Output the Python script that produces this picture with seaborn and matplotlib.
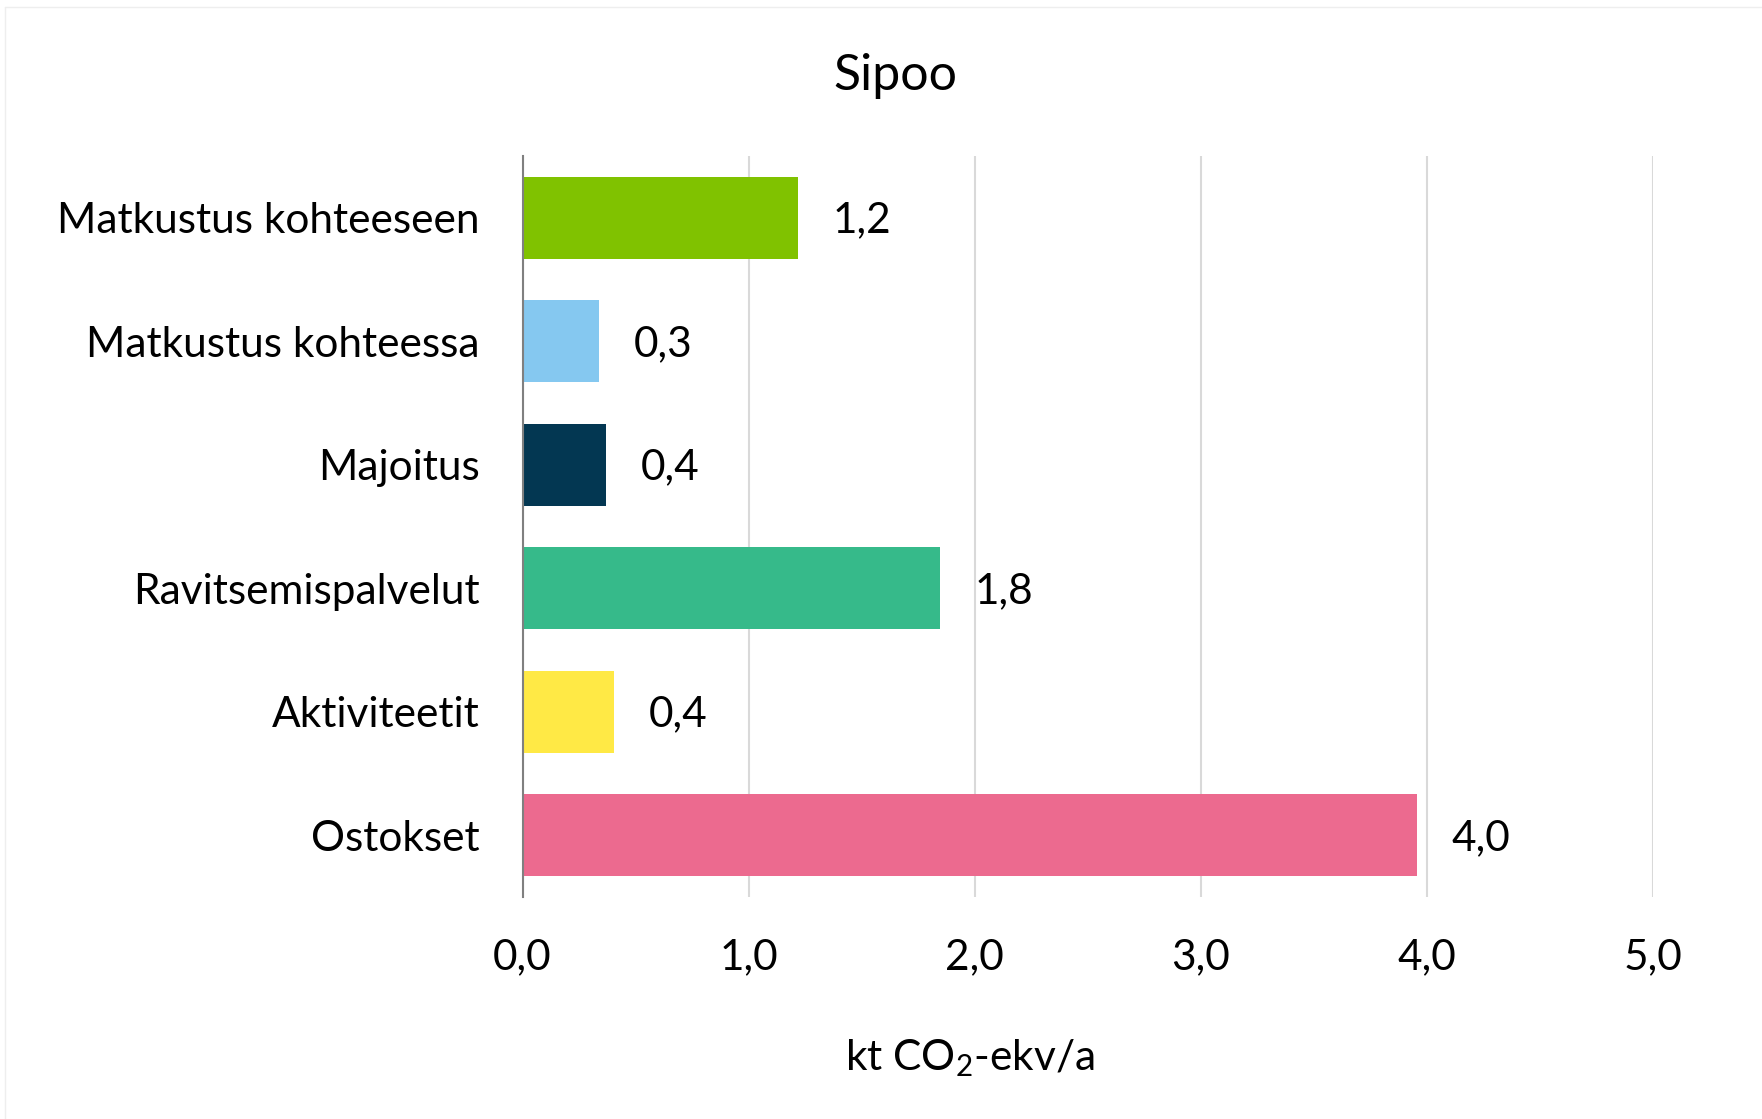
import matplotlib
matplotlib.use("Agg")
import matplotlib.pyplot as plt
import seaborn as sns
import pandas as pd
from matplotlib.lines import Line2D

categories = ["Matkustus kohteeseen", "Matkustus kohteessa", "Majoitus",
              "Ravitsemispalvelut", "Aktiviteetit", "Ostokset"]
values = [1.22, 0.34, 0.37, 1.845, 0.405, 3.955]
value_labels = ["1,2", "0,3", "0,4", "1,8", "0,4", "4,0"]
colors = ["#80C200", "#85C8F0", "#033752", "#36BA8A", "#FFE945", "#EC6A8F"]
xticks = [0, 1, 2, 3, 4, 5]
xtick_labels = ["0,0", "1,0", "2,0", "3,0", "4,0", "5,0"]
title = "Sipoo"
xlabel = r"kt CO$_\mathregular{2}$-ekv/a"

sns.set_theme(style="white")
plt.rcParams["font.family"] = ["Lato", "DejaVu Sans"]
plt.rcParams["mathtext.fontset"] = "custom"
plt.rcParams["mathtext.rm"] = "Lato"

df = pd.DataFrame({"cat": categories, "val": values})

W, H = 1762, 1119
FS = 30.5
fig = plt.figure(figsize=(W / 100, H / 100), dpi=100)
ax = fig.add_axes([522.5 / W, 1 - 897 / H, (1653 - 522.5) / W, (897 - 156) / H])

sns.barplot(data=df, x="val", y="cat", hue="cat", palette=colors, order=categories,
            hue_order=categories, legend=False, width=0.66, ax=ax, saturation=1,
            edgecolor="none", linewidth=0)

ax.set_xlim(0, 5)
ax.set_ylim(5.5, -0.5)
ax.set_xticks(xticks)
ax.set_xticklabels(xtick_labels)
ax.set_xlabel("")
ax.set_ylabel("")
ax.tick_params(axis="both", length=0, labelsize=FS, colors="black")
ax.tick_params(axis="y", pad=31)
ax.tick_params(axis="x", pad=30)
for lab in ax.get_yticklabels():
    lab.set_verticalalignment("center_baseline")
ax.xaxis.grid(True, color="#D9D9D9", linewidth=1.5)
ax.set_axisbelow(True)
for s in ["top", "right", "bottom"]:
    ax.spines[s].set_visible(False)
ax.spines["left"].set_color("#808080")
ax.spines["left"].set_linewidth(1.5)
ax.spines["left"].set_zorder(5)

for i, (v, lab) in enumerate(zip(values, value_labels)):
    ax.annotate(lab, xy=(v, i), xytext=(25, -2), textcoords="offset points",
                va="center", ha="left", fontsize=FS, color="black")

fig.text(895 / W, 1 - 90 / H, title, ha="center", va="baseline", fontsize=36, color="black")
fig.text(970 / W, 1 - 1070 / H, xlabel, ha="center", va="baseline", fontsize=FS, color="black")

# faint chart border
fig.add_artist(Line2D([5 / W, 5 / W], [0, 1 - 7 / H], transform=fig.transFigure,
                      color="#EEEEEE", linewidth=1))
fig.add_artist(Line2D([5 / W, 1], [1 - 7 / H, 1 - 7 / H], transform=fig.transFigure,
                      color="#EEEEEE", linewidth=1))

fig.savefig("out.png", dpi=100, facecolor="white")
